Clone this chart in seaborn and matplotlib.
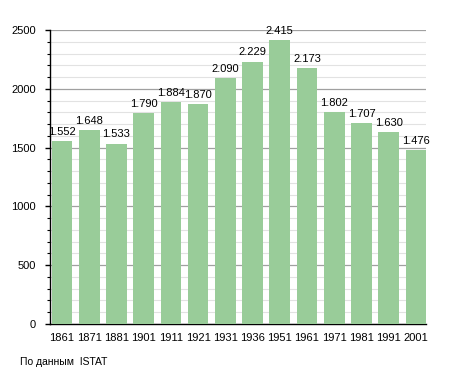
import numpy as np
import pandas as pd
import seaborn as sns
import matplotlib.pyplot as plt
from matplotlib.ticker import MultipleLocator

years = ["1861", "1871", "1881", "1901", "1911", "1921", "1931",
         "1936", "1951", "1961", "1971", "1981", "1991", "2001"]
population = [1552, 1648, 1533, 1790, 1884, 1870, 2090,
              2229, 2415, 2173, 1802, 1707, 1630, 1476]
labels = ["1.552", "1.648", "1.533", "1.790", "1.884", "1.870", "2.090",
          "2.229", "2.415", "2.173", "1.802", "1.707", "1.630", "1.476"]

df = pd.DataFrame({"year": years, "pop": population})

sns.set_style("white")
plt.rcParams['font.family'] = ['Liberation Sans', 'DejaVu Sans']
plt.rcParams['text.color'] = 'black'
plt.rcParams['xtick.color'] = 'black'
plt.rcParams['ytick.color'] = 'black'

fig = plt.figure(figsize=(4.55, 3.73), dpi=100)
ax = fig.add_axes([50 / 455, 49 / 373, 376 / 455, 294 / 373])

sns.barplot(data=df, x="year", y="pop", color="#99cc99", saturation=1,
            width=0.76, linewidth=0, ax=ax, zorder=3)

for i, (v, t) in enumerate(zip(population, labels)):
    ax.text(i, v + 38, t, ha="center", va="bottom", fontsize=8, zorder=4)

ax.set_ylim(0, 2500)
ax.set_xlim(-0.44, len(years) - 1 + 0.37)
ax.yaxis.set_major_locator(MultipleLocator(500))
ax.yaxis.set_minor_locator(MultipleLocator(100))
ax.grid(axis="y", which="major", color="#a0a0a0", linewidth=0.9, zorder=0)
ax.grid(axis="y", which="minor", color="#e2e2e2", linewidth=0.8, zorder=0)
ax.set_axisbelow(True)

for s in ["top", "right"]:
    ax.spines[s].set_visible(False)
for s in ["left", "bottom"]:
    ax.spines[s].set_color("black")
    ax.spines[s].set_linewidth(1)

ax.tick_params(axis="y", which="major", left=True, length=3.6, width=1, labelsize=8, pad=6.5)
ax.tick_params(axis="y", which="minor", left=True, length=2, width=0.8)
ax.tick_params(axis="x", bottom=False, labelsize=8, pad=3)
ax.set_xlabel("")
ax.set_ylabel("")

fig.text(20 / 455, 1 - 362 / 373, "По данным  ISTAT", fontsize=7.5, ha="left", va="center")

fig.savefig("out.png", dpi=100)
